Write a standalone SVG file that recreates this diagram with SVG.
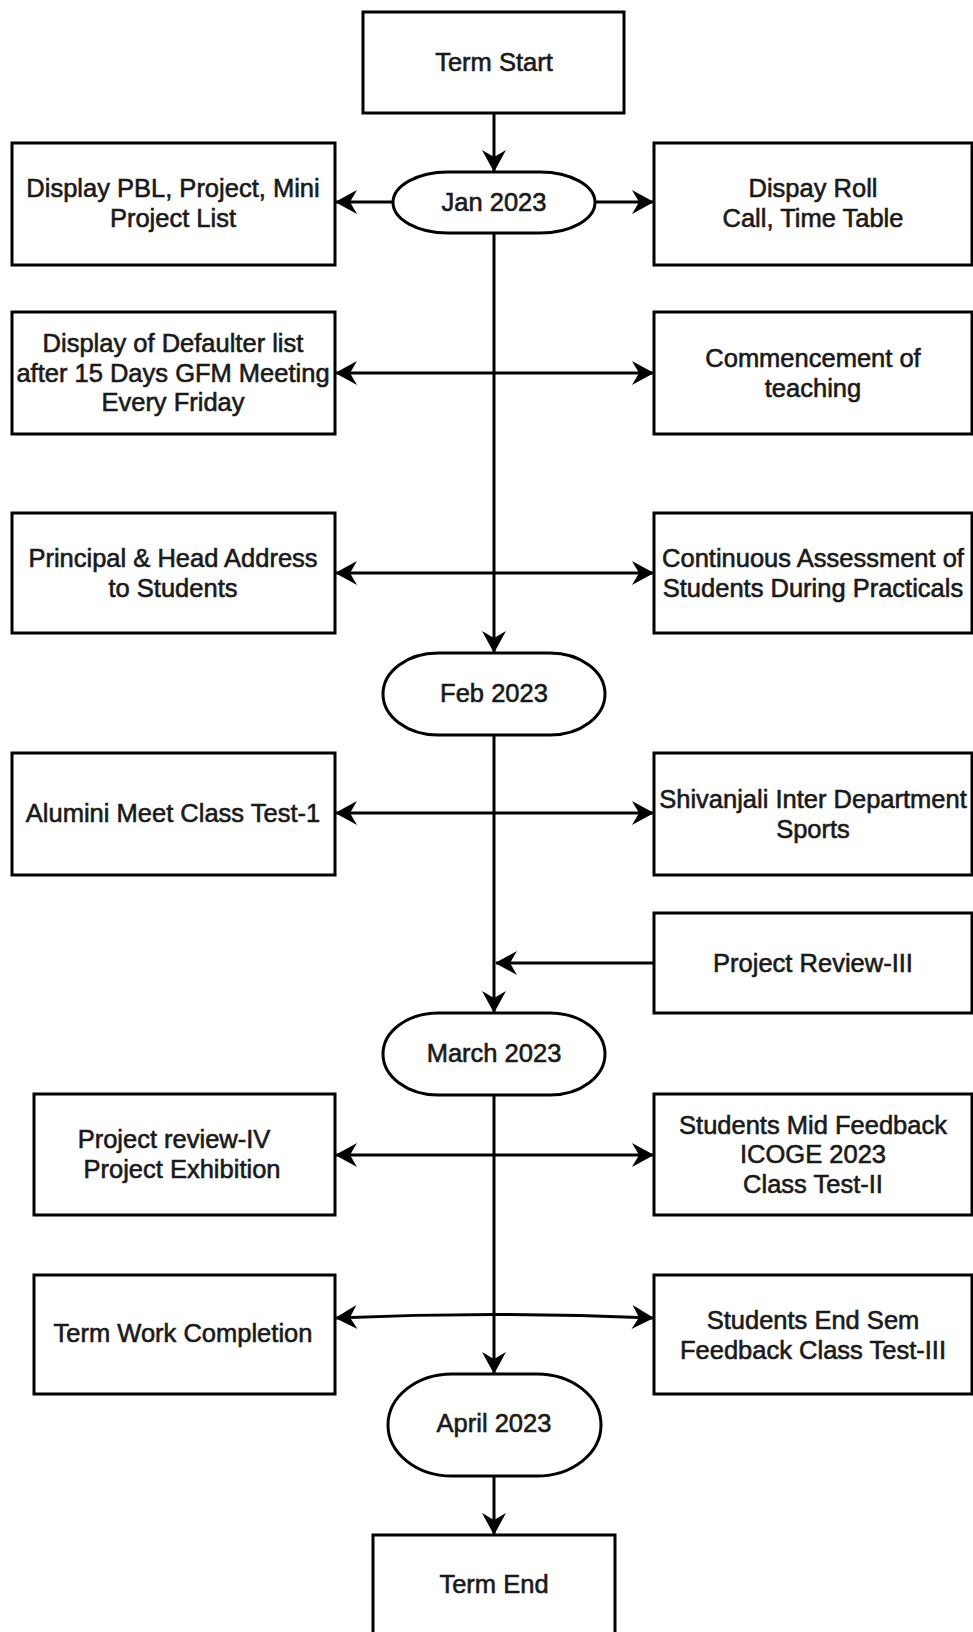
<svg xmlns="http://www.w3.org/2000/svg" width="973" height="1632" viewBox="0 0 973 1632">
<style>
.box{fill:#fff;stroke:#000;stroke-width:3}
.t{font-family:"Liberation Sans",Arial,sans-serif;font-size:25.5px;fill:#1a1a1a;stroke:#1a1a1a;stroke-width:0.6;text-anchor:middle;dominant-baseline:central}
.c{fill:none;stroke:#000;stroke-width:3}
</style>
<defs>
<marker id="ah" markerUnits="userSpaceOnUse" markerWidth="24" markerHeight="24" viewBox="0 0 22 24" refX="21" refY="12" orient="auto-start-reverse">
<path d="M0,0 L22,12 L0,24 L7,12 Z" fill="#000"/>
</marker>
</defs>
<rect width="973" height="1632" fill="#fff"/>
<g id="connectors">
<line class="c" x1="494" y1="113" x2="494" y2="171" marker-end="url(#ah)"/>
<line class="c" x1="494" y1="233" x2="494" y2="652" marker-end="url(#ah)"/>
<line class="c" x1="494" y1="735" x2="494" y2="1012" marker-end="url(#ah)"/>
<line class="c" x1="494" y1="1095" x2="494" y2="1373" marker-end="url(#ah)"/>
<line class="c" x1="494" y1="1476" x2="494" y2="1534" marker-end="url(#ah)"/>
<line class="c" x1="393" y1="202" x2="336" y2="202" marker-end="url(#ah)"/>
<line class="c" x1="595" y1="202" x2="653" y2="202" marker-end="url(#ah)"/>
<line class="c" x1="336" y1="373" x2="653" y2="373" marker-start="url(#ah)" marker-end="url(#ah)"/>
<line class="c" x1="336" y1="573" x2="653" y2="573" marker-start="url(#ah)" marker-end="url(#ah)"/>
<line class="c" x1="336" y1="813" x2="653" y2="813" marker-start="url(#ah)" marker-end="url(#ah)"/>
<line class="c" x1="653" y1="963" x2="496" y2="963" marker-end="url(#ah)"/>
<line class="c" x1="336" y1="1155" x2="653" y2="1155" marker-start="url(#ah)" marker-end="url(#ah)"/>
<path class="c" d="M336,1318 Q494,1311 653,1318" marker-start="url(#ah)" marker-end="url(#ah)"/>
</g>
<g id="term-start"><rect class="box" x="363" y="12" width="261" height="101"/><text class="t" x="494" y="62">Term Start</text></g>
<g id="jan"><rect class="box" x="393" y="172" width="202" height="61" rx="55" ry="30.5"/><text class="t" x="494" y="202">Jan 2023</text></g>
<g id="box-pbl"><rect class="box" x="12" y="143" width="323" height="122"/><text class="t" x="173" y="188">Display PBL, Project, Mini</text><text class="t" x="173" y="218">Project List</text></g>
<g id="box-roll"><rect class="box" x="654" y="143" width="318" height="122"/><text class="t" x="813" y="188">Dispay Roll</text><text class="t" x="813" y="218">Call, Time Table</text></g>
<g id="box-defaulter"><rect class="box" x="12" y="312" width="323" height="122"/><text class="t" x="173" y="343">Display of Defaulter list</text><text class="t" x="173" y="373">after 15 Days GFM Meeting</text><text class="t" x="173" y="402">Every Friday</text></g>
<g id="box-teaching"><rect class="box" x="654" y="312" width="318" height="122"/><text class="t" x="813" y="358">Commencement of</text><text class="t" x="813" y="388">teaching</text></g>
<g id="box-principal"><rect class="box" x="12" y="513" width="323" height="120"/><text class="t" x="173" y="558">Principal &amp; Head Address</text><text class="t" x="173" y="588">to Students</text></g>
<g id="box-assessment"><rect class="box" x="654" y="513" width="318" height="120"/><text class="t" x="813" y="558">Continuous Assessment of</text><text class="t" x="813" y="588">Students During Practicals</text></g>
<g id="feb"><rect class="box" x="383" y="653" width="222" height="82" rx="55" ry="41"/><text class="t" x="494" y="693">Feb 2023</text></g>
<g id="box-alumni"><rect class="box" x="12" y="753" width="323" height="122"/><text class="t" x="173" y="813">Alumini Meet Class Test-1</text></g>
<g id="box-sports"><rect class="box" x="654" y="753" width="318" height="122"/><text class="t" x="813" y="799">Shivanjali Inter Department</text><text class="t" x="813" y="829">Sports</text></g>
<g id="box-review3"><rect class="box" x="654" y="913" width="318" height="100"/><text class="t" x="813" y="963">Project Review-III</text></g>
<g id="march"><rect class="box" x="383" y="1013" width="222" height="82" rx="55" ry="41"/><text class="t" x="494" y="1053">March 2023</text></g>
<g id="box-review4"><rect class="box" x="34" y="1094" width="301" height="121"/><text class="t" x="174" y="1139">Project review-IV</text><text class="t" x="182" y="1169">Project Exhibition</text></g>
<g id="box-midfeedback"><rect class="box" x="654" y="1094" width="318" height="121"/><text class="t" x="813" y="1125">Students Mid Feedback</text><text class="t" x="813" y="1154">ICOGE 2023</text><text class="t" x="813" y="1184">Class Test-II</text></g>
<g id="box-termwork"><rect class="box" x="34" y="1275" width="301" height="119"/><text class="t" x="183" y="1333">Term Work Completion</text></g>
<g id="box-endsem"><rect class="box" x="654" y="1275" width="318" height="119"/><text class="t" x="813" y="1320">Students End Sem</text><text class="t" x="813" y="1350">Feedback Class Test-III</text></g>
<g id="april"><rect class="box" x="388" y="1374" width="213" height="102" rx="64" ry="51"/><text class="t" x="494" y="1423">April 2023</text></g>
<g id="term-end"><rect class="box" x="373" y="1535" width="242" height="110"/><text class="t" x="494" y="1584">Term End</text></g>
</svg>
